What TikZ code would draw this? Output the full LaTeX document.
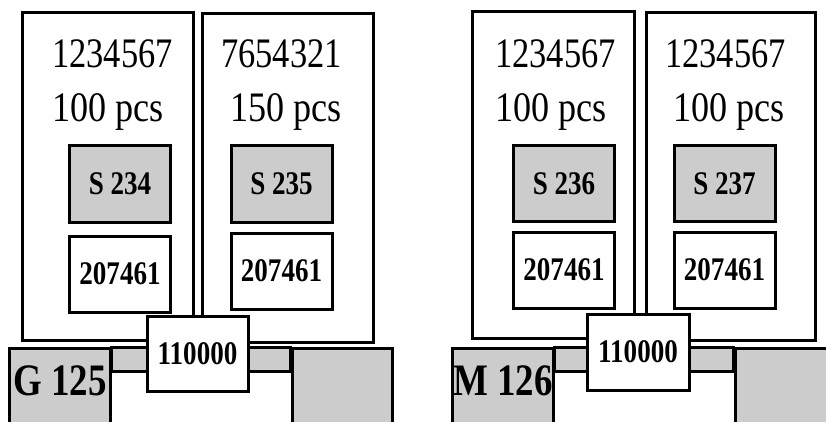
\documentclass[tikz,border=0pt]{standalone}
\usepackage{fontspec}
\usepackage{graphicx}
\setmainfont{Liberation Serif}
\usetikzlibrary{positioning}
\definecolor{cartgrey}{HTML}{CCCCCC}
\newcommand{\squeeze}[2][0.82]{\scalebox{#1}[1]{#2}}

\tikzset{
  pallet/.style={draw, line width=3pt, fill=white, inner sep=0pt},
  tag/.style={draw, line width=3pt, fill=white, inner sep=0pt, minimum width=101, minimum height=76,
    font=\fontsize{33}{36}\selectfont\bfseries},
  greytag/.style={tag, fill=cartgrey},
  wheel/.style={draw, line width=3pt, fill=cartgrey, inner sep=0pt, minimum width=101, minimum height=112},
  big/.style={inner sep=0pt, font=\fontsize{42}{46}\selectfont},
  cartname/.style={inner sep=0pt, anchor=base west, font=\fontsize{45}{48}\selectfont\bfseries},
  axle/.style={draw, line width=3pt, fill=cartgrey},
}

\begin{document}
\begin{tikzpicture}[x=1pt, y=-1pt]
  \useasboundingbox (0,0) rectangle (826,422);
  \clip (0,0) rectangle (826,422);

  % left cart
  \node [pallet, minimum width=171, minimum height=327] (palA) at (107.5,176.5) {};
  \node [pallet, minimum width=171, minimum height=328] (palB) at (287.5,178) {};
  \node [big, anchor=base west] (artA) at (52,68) {\squeeze{1234567}};
  \node [big, anchor=base west] (qtyA) at (52,122) {\squeeze[0.86]{100 pcs}};
  \node [big, anchor=base east] (artB) at (342,68) {\squeeze{7654321}};
  \node [big, anchor=base east] (qtyB) at (342,122) {\squeeze[0.86]{150 pcs}};
  \node [greytag] (slotA) at (120,184) {\squeeze{S 234}};
  \node [greytag] (slotB) at (281.5,184) {\squeeze{S 235}};
  \node [tag, below=11pt of slotA] (codeA) {\squeeze{207461}};
  \node [tag, below=8pt of slotB] (codeB) {\squeeze{207461}};
  \node [wheel] (wheelG) at (59.5,404) {};
  \node [wheel, minimum width=100] (wheelGr) at (342,404) {};
  \draw [axle] ([yshift=-1pt]wheelG.north east) rectangle ([yshift=-25pt]wheelGr.north west);
  \node [cartname] (nameG) at (13,395) {\squeeze{G 125}};
  \node [tag, minimum height=75] (hubG) at (197.5,353.5) {\squeeze{110000}};

  % right cart
  \node [pallet, minimum width=162, minimum height=326] (palC) at (553,175) {};
  \node [pallet, minimum width=169, minimum height=327] (palD) at (730.5,176.5) {};
  \node [big, anchor=base west] (artC) at (495,68) {\squeeze{1234567}};
  \node [big, anchor=base west] (qtyC) at (495,122) {\squeeze[0.86]{100 pcs}};
  \node [big, anchor=base east] (artD) at (786,68) {\squeeze{1234567}};
  \node [big, anchor=base east] (qtyD) at (785,122) {\squeeze[0.86]{100 pcs}};
  \node [greytag, minimum height=75] (slotC) at (564,183.5) {\squeeze{S 236}};
  \node [greytag, minimum height=75] (slotD) at (724.5,183.5) {\squeeze{S 237}};
  \node [tag, below=8pt of slotC] (codeC) {\squeeze{207461}};
  \node [tag, below=8pt of slotD] (codeD) {\squeeze{207461}};
  \node [wheel] (wheelM) at (502.5,404) {};
  \node [wheel] (wheelMr) at (785.5,404) {};
  \draw [axle] ([yshift=-1pt]wheelM.north east) rectangle ([yshift=-25pt]wheelMr.north west);
  \node [cartname] (nameM) at (453,395) {\squeeze{M 126}};
  \node [tag, minimum width=102] (hubM) at (638,352) {\squeeze{110000}};
\end{tikzpicture}
\end{document}
